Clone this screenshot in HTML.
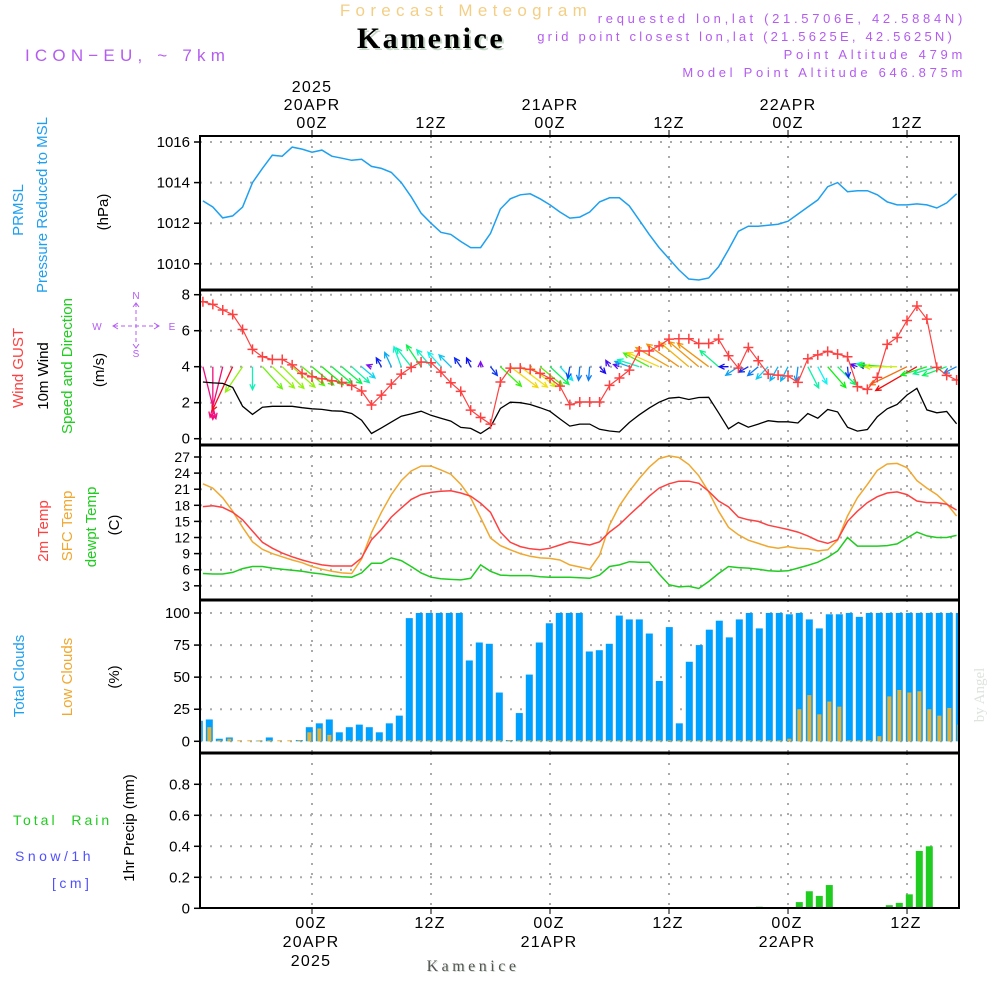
<!DOCTYPE html>
<html><head><meta charset="utf-8">
<style>
html,body{margin:0;padding:0;background:#fff;}
svg{display:block;font-family:"Liberation Sans",sans-serif;}
</style></head>
<body>
<svg id="chart" width="1000" height="1000" viewBox="0 0 1000 1000" xmlns="http://www.w3.org/2000/svg">
<rect x="0" y="0" width="1000" height="1000" fill="#fff"/>
<!-- header -->
<text x="466" y="16" text-anchor="middle" font-size="17" letter-spacing="5.3" fill="#f3cf86">Forecast Meteogram</text>
<text x="433" y="50" text-anchor="middle" font-family="Liberation Serif,serif" font-weight="bold" font-size="30" letter-spacing="2.5" fill="#c8d8c8">Kamenice</text>
<text x="431" y="48" text-anchor="middle" font-family="Liberation Serif,serif" font-weight="bold" font-size="30" letter-spacing="2.5" fill="#000">Kamenice</text>
<text x="25" y="61" font-size="17" letter-spacing="5.2" fill="#b45cf0">ICON−EU, ~ 7km</text>
<g font-size="13" letter-spacing="3.7" fill="#b45cf0" text-anchor="end">
<text x="966" y="23">requested lon,lat (21.5706E, 42.5884N)</text>
<text x="955" y="41" letter-spacing="3.2">grid point closest lon,lat (21.5625E, 42.5625N)</text>
<text x="966" y="59">Point Altitude 479m</text>
<text x="966" y="77">Model Point Altitude 646.875m</text>
</g>
<!-- left titles -->
<g font-size="15">
<text transform="translate(23,210) rotate(-90)" text-anchor="middle" fill="#1ea0f0">PRMSL</text>
<text transform="translate(47,205) rotate(-90)" text-anchor="middle" fill="#1ea0f0">Pressure Reduced to MSL</text>
<text transform="translate(108,212) rotate(-90)" text-anchor="middle" fill="#000">(hPa)</text>
<text transform="translate(23,368) rotate(-90)" text-anchor="middle"><tspan fill="#ff4040">Wind GUST</tspan></text>
<text transform="translate(48,376) rotate(-90)" text-anchor="middle" fill="#000">10m Wind</text>
<text transform="translate(72,366) rotate(-90)" text-anchor="middle" fill="#20cc20">Speed and Direction</text>
<text transform="translate(104,370) rotate(-90)" text-anchor="middle" fill="#000">(m/s)</text>
<text transform="translate(48,531) rotate(-90)" text-anchor="middle" fill="#ff4040">2m Temp</text>
<text transform="translate(72,526) rotate(-90)" text-anchor="middle" fill="#f0a830">SFC Temp</text>
<text transform="translate(96,527) rotate(-90)" text-anchor="middle" fill="#20cc20">dewpt Temp</text>
<text transform="translate(119,525) rotate(-90)" text-anchor="middle" fill="#000">(C)</text>
<text transform="translate(24,676) rotate(-90)" text-anchor="middle" fill="#1ea0f0">Total Clouds</text>
<text transform="translate(72,677) rotate(-90)" text-anchor="middle" fill="#f0a830">Low Clouds</text>
<text transform="translate(119,677) rotate(-90)" text-anchor="middle" fill="#000">(%)</text>
<text transform="translate(134,828) rotate(-90)" text-anchor="middle" fill="#000">1hr Precip (mm)</text>
</g>
<g font-size="14" letter-spacing="3">
<text x="13" y="825" fill="#20cc20">Total&#160;&#160;Rain</text>
<text x="15" y="861" fill="#5050ff" letter-spacing="3.5">Snow/1h</text>
<text x="52" y="888" fill="#5050ff" letter-spacing="3.5">[cm]</text>
</g>
<!-- compass -->
<g fill="#b45cf0" stroke="#b45cf0" font-size="10">
<text x="136" y="299" text-anchor="middle" stroke="none">N</text>
<text x="136" y="357" text-anchor="middle" stroke="none">S</text>
<text x="97" y="330" text-anchor="middle" stroke="none">W</text>
<text x="172" y="330" text-anchor="middle" stroke="none">E</text>
<line x1="136" y1="303" x2="136" y2="343" stroke-dasharray="4 3" stroke-width="1"/>
<line x1="114" y1="326" x2="158" y2="326" stroke-dasharray="4 3" stroke-width="1"/>
<path d="M118,323 L113,326 L118,329 M154,323 L159,326 L154,329 M133,307 L136,303 L139,307 M133,344 L136,348 L139,344" fill="none" stroke-width="1"/>
</g>
<text transform="translate(984,695) rotate(-90)" text-anchor="middle" font-family="Liberation Serif,serif" font-size="15" fill="#dde3dd">by Angel</text>
<text x="474" y="972" text-anchor="middle" font-family="Liberation Serif,serif" font-size="16" letter-spacing="3.5" fill="#d0dcd0">Kamenice</text>
<text x="473" y="971" text-anchor="middle" font-family="Liberation Serif,serif" font-size="16" letter-spacing="3.5" fill="#555">Kamenice</text>
<g id="plot"></g>
</svg>
<script>
// ---- data (hourly, from 12Z 19APR = hour -11 to 17Z 22APR = hour 65) ----
const startHour = -11;
const pressure = [1013.1,1012.8,1012.26,1012.36,1012.8,1014.0,1014.7,1015.35,1015.3,1015.75,1015.65,1015.5,1015.6,1015.3,1015.2,1015.1,1015.15,1014.8,1014.7,1014.5,1014.0,1013.3,1012.5,1012.0,1011.55,1011.45,1011.1,1010.8,1010.8,1011.5,1012.7,1013.2,1013.4,1013.45,1013.2,1012.9,1012.55,1012.25,1012.3,1012.55,
1013.05,1013.25,1013.25,1012.85,1012.15,1011.45,1010.8,1010.25,1009.7,1009.25,1009.2,1009.3,1009.85,1010.7,1011.6,1011.85,1011.85,1011.9,1011.95,1012.1,1012.45,1012.8,1013.15,1013.8,1014.0,1013.55,1013.6,1013.6,1013.4,1013.05,1012.9,1012.9,1012.95,1012.9,1012.75,1013.0,1013.45];
const wind10 = [3.15,3.1,3.07,2.85,1.8,1.35,1.75,1.8,1.8,1.8,1.72,1.66,1.63,1.55,1.53,1.4,1.03,0.29,0.6,0.92,1.25,1.38,1.53,1.3,1.14,0.98,0.63,0.57,0.29,0.65,1.68,2.03,2.0,1.9,1.72,1.52,1.1,0.7,0.81,0.81,
0.52,0.43,0.37,0.9,1.33,1.7,2.03,2.25,2.3,2.18,2.29,2.3,1.44,0.55,0.9,0.64,0.81,1.0,0.94,0.94,0.87,1.4,1.14,1.62,1.49,0.64,0.42,0.51,1.22,1.66,1.9,2.43,2.8,1.6,1.44,1.51,0.83];
const gust = [7.61,7.46,7.15,6.9,6.07,4.96,4.55,4.4,4.4,4.1,3.63,3.44,3.33,3.22,3.13,2.96,2.65,1.87,2.42,3.03,3.59,3.96,4.26,4.22,3.7,3.11,2.63,1.59,1.18,0.81,3.15,3.92,3.92,3.85,3.63,3.35,2.92,1.89,2.04,2.04,
2.04,2.96,3.37,3.81,4.87,4.87,5.16,5.53,5.55,5.55,5.29,5.29,5.53,4.61,3.92,5.07,4.33,3.59,3.53,3.48,3.13,4.44,4.66,4.85,4.7,4.55,2.89,2.74,3.41,5.24,5.62,6.57,7.37,6.64,3.96,3.52,3.26];
const windDir = [76,90,104,115,124,90,48,44,45,42,40,40,40,40,40,42,40,200,240,245,250,232,236,230,228,225,235,245,270,52,43,37,37,38,40,43,47,100,95,95,
48,240,200,200,198,208,204,210,215,220,220,217,221,180,146,150,140,134,120,117,97,63,62,49,45,85,200,190,188,184,180,154,150,162,163,160,153];
const temp2m = [17.75,17.9,17.6,16.7,15.3,13.2,11.1,10.0,9.1,8.4,7.8,7.3,6.9,6.7,6.7,6.7,8.2,11.6,13.5,15.8,17.5,19.1,20.0,20.4,20.6,20.7,20.3,19.7,18.4,16.7,13.0,11.1,10.3,9.9,9.7,10.0,10.6,11.2,10.9,10.6,
11.2,13.0,14.4,16.2,17.9,19.7,21.2,22.0,22.5,22.5,22.1,20.6,18.8,17.7,15.8,15.3,15.0,14.3,13.9,13.5,13.0,12.3,11.4,10.9,11.6,15.0,16.9,18.5,19.6,20.3,20.5,20.0,18.8,18.5,18.5,18.2,17.1];
const tempSfc = [22.0,21.2,19.4,16.9,13.9,11.2,9.8,9.0,8.4,7.8,7.3,6.6,6.1,5.7,5.4,5.3,8.0,12.9,16.7,20.0,22.6,24.4,25.3,25.3,24.6,23.8,21.9,19.4,15.7,11.9,10.5,9.7,9.0,8.5,8.2,8.1,7.8,6.9,6.5,6.1,
8.7,14.3,17.9,20.6,23.0,25.1,26.7,27.2,26.9,25.6,23.5,20.5,16.9,13.9,12.5,11.5,10.9,10.3,10.0,10.3,10.0,9.9,9.5,9.7,11.5,16.0,19.4,21.9,24.5,25.7,25.8,25.0,22.6,21.2,20.0,18.3,16.0];
const dewpt = [5.3,5.2,5.2,5.5,6.2,6.6,6.6,6.3,6.1,5.9,5.7,5.4,5.2,4.9,4.7,4.6,5.4,7.2,7.2,8.2,7.7,6.6,5.4,4.6,4.3,4.2,4.1,4.4,6.9,5.7,5.0,4.9,4.9,4.9,4.7,4.6,4.6,4.6,4.5,4.4,
5.0,6.6,6.9,7.5,7.4,7.4,5.2,3.2,2.8,2.9,2.5,3.8,5.3,6.6,6.4,6.3,6.1,5.8,5.7,5.8,6.3,6.8,7.4,8.3,9.5,12.0,10.4,10.4,10.4,10.5,10.8,11.9,13.0,12.3,12.0,12.0,12.4];
const totalClouds = [16,17,2,3,0,0,0.5,3,0,0,1,11,14,17,7,11,13,11,7,14,20,96,100,100,100,100,100,63,77,76,38,1,22,52,77,92,100,100,100,70,
71,76,98,95,95,84,47,89,14,62,75,87,94,81,95,100,88,100,100,99,100,95,88,99,99,100,97,100,100,100,100,100,100,100,100,100,100];
const lowClouds = [16,11,0,2,0,0,0,0,0,0,0,7,10,5,0,0,0,0,0,0,0,0,0,0,0,0,0,0,0,0,0,0,0,0,0,0,0,0,0,0,
0,0,0,0,0,0,0,0,0,0,0,0,0,0,0,0,0,0,0,2,25,36,21,31,27,0,0,0,4,35,40,38,39,25,20,26,13];
const precip = [0,0,0,0,0,0,0,0,0,0,0,0,0,0,0,0,0,0,0,0,0,0,0,0,0,0,0,0,0,0,0,0,0,0,0,0,0,0,0,0,
0,0,0,0,0,0,0,0,0,0,0,0,0,0,0,0,0.01,0,0,0,0.04,0.11,0.08,0.15,0,0,0,0,0,0.02,0.035,0.09,0.37,0.40,0,0,0];
const pressureTicks = [1010,1012,1014,1016];
const windTicks = [0,2,4,6,8];
const tempTicks = [3,6,9,12,15,18,21,24,27];
const cloudTicks = [0,25,50,75,100];
const precipTicks = ["0","0.2","0.4","0.6","0.8"];
const topTimeLabels = [["2025","20APR","00Z"],["","","12Z"],["","21APR","00Z"],["","","12Z"],["","22APR","00Z"],["","","12Z"]];
const bottomTimeLabels = [["00Z","20APR","2025"],["12Z","",""],["00Z","21APR",""],["12Z","",""],["00Z","22APR",""],["12Z","",""]];
const gridHours = [0,12,24,36,48,60];

// ---- scales ----
const X0=200, X1=959;
const xT = h => 312 + h*9.917;
const xB = h => 209.3 + (h+10)*10.0;
const yP = p => 142 + (1016-p)*20.3;
const yW = v => 438.7 - v*18;
const yT = t => 457 + (27-t)*5.367;
const yC = c => 741.3 - c*1.283;
const yR = r => 908.3 - r*155;
const panels = [[136,290],[290,445],[445,600],[600,753],[753,908]];

const NS="http://www.w3.org/2000/svg";
const plot=document.getElementById('plot');
function mk(tag, attrs, parent){const e=document.createElementNS(NS,tag);for(const k in attrs)e.setAttribute(k,attrs[k]);(parent||plot).appendChild(e);return e;}

const defs=mk('defs',{});
panels.forEach((p,i)=>{const c=mk('clipPath',{id:'clip'+i},defs);mk('rect',{x:X0,y:p[0],width:X1-X0,height:p[1]-p[0]},c);});

function hgrid(y){const l=mk('line',{x1:X0,x2:X1,y1:y,y2:y,stroke:'#aaa','stroke-width':2,'stroke-dasharray':'2 8'});

}
function ticklab(y,txt,fs){const t=mk('text',{x:190,y:y+5,'text-anchor':'end','font-size':fs||15,fill:'#000'});t.textContent=txt;


mk('line',{x1:194,x2:200,y1:y,y2:y,stroke:'#000','stroke-width':1.5});}
pressureTicks.forEach(p=>{hgrid(yP(p));ticklab(yP(p),String(p));});
windTicks.forEach(v=>{hgrid(yW(v));ticklab(yW(v),String(v));});
tempTicks.forEach(t=>{hgrid(yT(t));ticklab(yT(t),String(t),14);});
cloudTicks.forEach(c=>{hgrid(yC(c));ticklab(yC(c),String(c));});
precipTicks.forEach(r=>{const v=parseFloat(r);if(v>0)hgrid(yR(v));ticklab(yR(v),r);});
panels.forEach(p=>{gridHours.forEach(h=>{const l=mk('line',{x1:xT(h),x2:xT(h),y1:p[0],y2:p[1],stroke:'#aaa','stroke-width':2,'stroke-dasharray':'2 8'});

});});

gridHours.forEach((h,i)=>{
  const x=xT(h);
  mk('line',{x1:x,x2:x,y1:130,y2:136,stroke:'#000','stroke-width':1});
  mk('line',{x1:x,x2:x,y1:908,y2:914,stroke:'#000','stroke-width':1});
  topTimeLabels[i].forEach((s,j)=>{if(!s)return;const t=mk('text',{x:x,y:92+j*18,'text-anchor':'middle','font-size':16,'letter-spacing':'1.2',fill:'#000'});t.textContent=s;
    
    });
  bottomTimeLabels[i].forEach((s,j)=>{if(!s)return;const t=mk('text',{x:x-1,y:928+j*19,'text-anchor':'middle','font-size':16,'letter-spacing':'1.2',fill:'#000'});t.textContent=s;
    
    });
});

function seriesPath(arr, ys){return arr.map((v,i)=>(i?'L':'M')+xT(startHour+i).toFixed(1)+','+ys(v).toFixed(1)).join(' ');}

const gP=mk('g',{'clip-path':'url(#clip0)'});
const pl=mk('path',{d:seriesPath(pressure,yP),fill:'none',stroke:'#1ea0f0','stroke-width':1.5},gP);



const gW=mk('g',{'clip-path':'url(#clip1)'});
const hueStops=[[0.3,270],[0.6,235],[1.0,190],[1.4,160],[1.6,125],[1.8,85],[2.0,55],[2.3,35],[2.8,0],[3.1,-30]];
function hueFor(s){if(s<=hueStops[0][0])return hueStops[0][1];for(let i=1;i<hueStops.length;i++){if(s<=hueStops[i][0]){const a=hueStops[i-1],b=hueStops[i];return a[1]+(b[1]-a[1])*(s-a[0])/(b[0]-a[0]);}}return hueStops[hueStops.length-1][1];}
wind10.forEach((s,i)=>{
  const h=startHour+i, bx=xT(h), by=yW(4);
  const ang=windDir[i]*Math.PI/180, L=s*17;
  const tx=bx+L*Math.cos(ang), ty=by+L*Math.sin(ang);
  let hu=hueFor(s); if(hu<0)hu+=360;
  const col='hsl('+hu.toFixed(0)+',90%,50%)';
  const a1=ang+Math.PI-0.45, a2=ang+Math.PI+0.45, hl=6;
  const ar=mk('path',{d:'M'+bx+','+by+' L'+tx+','+ty+' M'+(tx+hl*Math.cos(a1))+','+(ty+hl*Math.sin(a1))+' L'+tx+','+ty+' L'+(tx+hl*Math.cos(a2))+','+(ty+hl*Math.sin(a2)),fill:'none',stroke:col,'stroke-width':1.3},gW);
  
  
});
const wl=mk('path',{d:seriesPath(wind10,yW),fill:'none',stroke:'#000','stroke-width':1.3},gW);


const gl=mk('path',{d:seriesPath(gust,yW),fill:'none',stroke:'#ff4040','stroke-width':1.2},gW);


gust.forEach((v,i)=>{const x=xT(startHour+i),y=yW(v);
  const m=mk('path',{d:'M'+(x-5)+','+y+' L'+(x+5)+','+y+' M'+x+','+(y-5)+' L'+x+','+(y+5),stroke:'#ff4040','stroke-width':1.5,fill:'none'},gW);
  
  });

const gT=mk('g',{'clip-path':'url(#clip2)'});
[[tempSfc,'#f0a830','sfc-temp-line'],[temp2m,'#ff4040','temp-2m-line'],[dewpt,'#20cc20','dewpt-line']].forEach(s=>{
  const p=mk('path',{d:seriesPath(s[0],yT),fill:'none',stroke:s[1],'stroke-width':1.5},gT);
  
  
});

const gC=mk('g',{'clip-path':'url(#clip3)'});
totalClouds.forEach((c,i)=>{const cx=xB(startHour+i);
  const r=mk('rect',{x:cx-3.5,y:yC(c),width:7,height:Math.max(0,yC(0)-yC(c)),fill:'#00a0ff'},gC);
  
  
  const lc=lowClouds[i];
  const r2=mk('rect',{x:cx-2,y:Math.min(yC(lc),yC(0)-1),width:4,height:Math.max(1,yC(0)-yC(lc)),fill:'#e8b030'},gC);
  
  
});

const gR=mk('g',{'clip-path':'url(#clip4)'});
precip.forEach((r,i)=>{if(r<=0)return;const cx=xB(startHour+i);
  const b=mk('rect',{x:cx-3.5,y:yR(r),width:7,height:yR(0)-yR(r),fill:'#20cc20'},gR);
  
  });

panels.forEach((p,i)=>{const f=mk('rect',{x:X0,y:p[0],width:X1-X0,height:p[1]-p[0],fill:'none',stroke:'#000','stroke-width':2});
  
  });
[290,445,600,753].forEach(y=>mk('line',{x1:X0,x2:X1,y1:y,y2:y,stroke:'#000','stroke-width':3}));
</script>
</body></html>
